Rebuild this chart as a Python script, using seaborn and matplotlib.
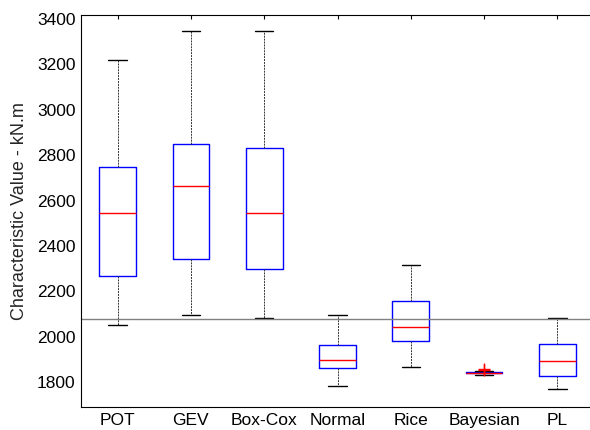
import pandas as pd
import matplotlib
matplotlib.use("Agg")
import matplotlib.pyplot as plt
import seaborn as sns

# box stats: lower whisker, q1, median, q3, upper whisker
methods = ["POT", "GEV", "Box-Cox", "Normal", "Rice", "Bayesian", "PL"]
lower = [2052, 2098, 2082, 1784, 1869, 1832, 1770]
q1 = [2268, 2342, 2299, 1862, 1983, 1840, 1826]
median = [2547, 2663, 2547, 1898, 2044, 1842, 1892]
q3 = [2748, 2850, 2832, 1964, 2159, 1844, 1970]
upper = [3220, 3347, 3347, 2098, 2317, 1850, 2085]
bayes_outliers = [1853, 1857]
reference_value = 2080

# five points per method give exactly those quartiles
rows = []
for i, m in enumerate(methods):
    for v in (lower[i], q1[i], median[i], q3[i], upper[i]):
        rows.append({"method": m, "value": v})
record = pd.DataFrame(rows)

sns.set_style("white")
plt.rcParams["font.family"] = ["Liberation Sans", "DejaVu Sans"]

fig = plt.figure(figsize=(5.9, 4.3), dpi=100)
ax = fig.add_axes([0.1373, 0.0535, 0.8695, 0.9116])

sns.boxplot(data=record, x="method", y="value", order=methods,
            whis=(0, 100), width=0.5, fill=False, color="blue",
            linewidth=1.0, ax=ax,
            medianprops={"color": "red"},
            whiskerprops={"color": "#333333", "linestyle": (0, (2, 1)), "linewidth": 0.7},
            capprops={"color": "black", "linewidth": 1.0})
sns.stripplot(x=["Bayesian"] * len(bayes_outliers), y=bayes_outliers,
              order=methods, jitter=False, marker="+", color="red",
              size=9, linewidth=1.0, ax=ax)

ax.axhline(reference_value, color="grey", linewidth=1.0)

ax.set_ylim(1691, 3418)
ax.set_xlim(-0.5, 6.5)
ax.set_yticks(range(1800, 3401, 200))
ax.set_xlabel("")
ax.set_ylabel("Characteristic Value - kN.m", fontsize=13, labelpad=6)
ax.tick_params(direction="in", top=True, right=True, length=3,
               width=0.8, labelsize=12.5, colors="black", pad=4)
for s in ax.spines.values():
    s.set_visible(True)
    s.set_color("black")
    s.set_linewidth(0.8)

plt.savefig("out.png", dpi=100)
